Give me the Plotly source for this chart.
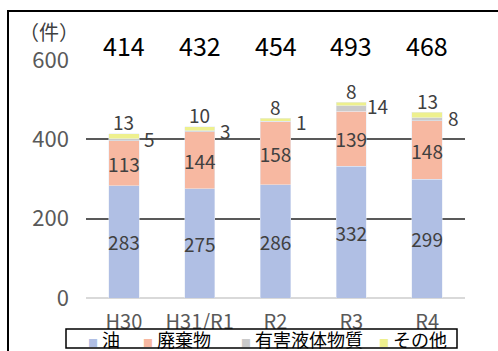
import plotly.graph_objects as go
import numpy as np

categories = ["H30", "H31/R1", "R2", "R3", "R4"]
oil = [283, 275, 286, 332, 299]
waste = [113, 144, 158, 139, 148]
hazardous = [5, 3, 1, 14, 8]
other = [13, 10, 8, 8, 13]
totals = [414, 432, 454, 493, 468]
series_names = ["油", "廃棄物", "有害液体物質", "その他"]
y_ticks = [0, 200, 400, 600]

colors = ["#b0bfe4", "#f7b8a1", "#cacaca", "#eef08e"]
FONT = "Noto Sans CJK JP, Noto Sans, sans-serif"
LABEL = "#404040"

# plot area in pixels: x 86..465, y 60..298
L, R, T, B, W, H = 86, 33, 60, 53, 498, 351
PW, PH = W - L - R, H - T - B


def px(x):
    return (x - L) / PW


def py(y):
    return (H - B - y) / PH


fig = go.Figure()

fig.add_trace(go.Bar(x=categories, y=oil, name=series_names[0], marker_color=colors[0],
                     text=oil, textposition="inside", insidetextanchor="middle",
                     textangle=0, constraintext="none",
                     textfont=dict(size=19, color=LABEL, family=FONT)))
fig.add_trace(go.Bar(x=categories, y=waste, name=series_names[1], marker_color=colors[1],
                     text=waste, textposition="inside", insidetextanchor="middle",
                     textangle=0, constraintext="none",
                     textfont=dict(size=19, color=LABEL, family=FONT)))
fig.add_trace(go.Bar(x=categories, y=hazardous, name=series_names[2], marker_color=colors[2]))
fig.add_trace(go.Bar(x=categories, y=other, name=series_names[3], marker_color=colors[3]))

annotations = []
haz_top = np.array(oil) + np.array(waste) + np.array(hazardous)
stack_top = haz_top + np.array(other)
for cat, v, top in zip(categories, hazardous, haz_top):
    annotations.append(dict(x=cat, y=float(top), xref="x", yref="y", text=str(v),
                            showarrow=False, xshift=26, yanchor="middle",
                            font=dict(size=19, color=LABEL, family=FONT)))
for cat, v, top in zip(categories, other, stack_top):
    annotations.append(dict(x=cat, y=float(top), xref="x", yref="y", text=str(v),
                            showarrow=False, yshift=12, yanchor="middle",
                            font=dict(size=19, color=LABEL, family=FONT)))
for cat, t in zip(categories, totals):
    annotations.append(dict(x=cat, y=600, xref="x", yref="y", text=str(t),
                            showarrow=False, yshift=15, yanchor="middle",
                            font=dict(size=25, color="#000000", family=FONT)))
annotations.append(dict(x=px(17), y=py(32), xref="paper", yref="paper", text="（件）",
                        showarrow=False, xanchor="left", yanchor="middle",
                        font=dict(size=20, color=LABEL, family=FONT)))

# manual legend
legend_x = [86, 141, 239, 377]
for name, c, lx in zip(series_names, colors, legend_x):
    annotations.append(dict(
        x=px(lx), y=py(339), xref="paper", yref="paper", xanchor="left", yanchor="middle",
        showarrow=False,
        text=f"<span style='font-size:10px;color:{c}'>■</span> {name}",
        font=dict(size=18, color="#000000", family=FONT)))

shapes = [
    dict(type="rect", xref="paper", yref="paper", x0=px(8), x1=px(520),
         y0=py(400), y1=py(11), line=dict(color="#000000", width=2), layer="below"),
    dict(type="rect", xref="paper", yref="paper", x0=px(66), x1=px(457),
         y0=py(348), y1=py(329), line=dict(color="#000000", width=1.5),
         fillcolor="white", layer="above"),
]

fig.update_layout(
    width=W, height=H,
    margin=dict(l=L, r=R, t=T, b=B, autoexpand=False),
    barmode="stack", bargap=0.6,
    paper_bgcolor="white", plot_bgcolor="white",
    font=dict(family=FONT),
    annotations=annotations,
    shapes=shapes,
    showlegend=False,
    xaxis=dict(showgrid=False, showline=False, ticks="", ticklabelstandoff=10,
               tickfont=dict(size=20, color="#595959", family=FONT)),
    yaxis=dict(range=[0, 600], tickvals=y_ticks, showgrid=True, gridcolor="#595959",
               gridwidth=1.5, zeroline=True, zerolinecolor="#d9d9d9", zerolinewidth=2,
               ticks="", ticklabelstandoff=16,
               tickfont=dict(size=22, color="#595959", family=FONT)),
)

fig.write_html("out.html")
